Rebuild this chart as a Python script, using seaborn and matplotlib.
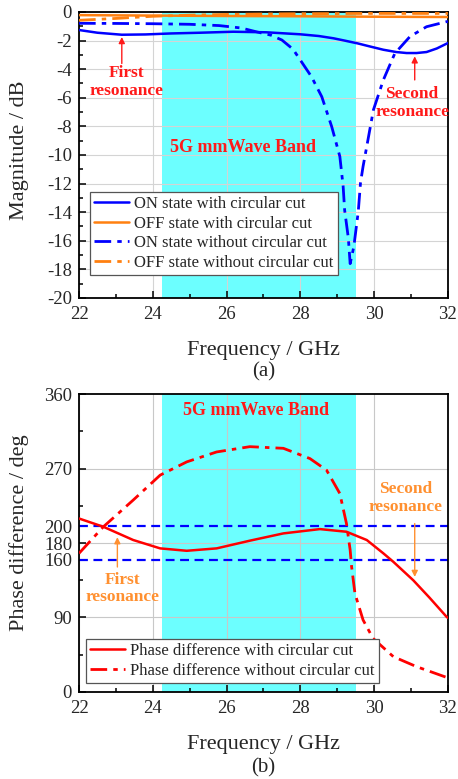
import matplotlib
matplotlib.use('Agg')
import matplotlib.pyplot as plt
from matplotlib.ticker import MultipleLocator, FixedLocator
import numpy as np
import pandas as pd
import seaborn as sns

# ---- data ----
# (a) magnitude, dB
f_on_cut = [22.0, 22.5, 23.16, 23.8, 24.5, 25.28, 26.18, 27.08, 28.0, 28.5, 28.9, 29.2, 29.56,
            29.9, 30.25, 30.6, 30.88, 31.15, 31.42, 31.7, 32.0]
m_on_cut = [-1.26, -1.45, -1.59, -1.57, -1.5, -1.45, -1.38, -1.42, -1.56, -1.68, -1.84, -2.0, -2.2,
            -2.42, -2.64, -2.8, -2.87, -2.87, -2.8, -2.55, -2.17]

f_off_cut = [22.0, 24.0, 26.0, 28.0, 30.0, 32.0]
m_off_cut = [-0.22, -0.25, -0.28, -0.3, -0.33, -0.35]

f_on_nocut = [22.0, 23.0, 24.0, 25.0, 25.8, 26.4, 26.8, 27.2, 27.5, 27.8, 28.03, 28.3, 28.58,
              28.85, 29.07, 29.16, 29.2, 29.3, 29.35, 29.45, 29.57, 29.63, 29.7, 29.8, 29.98,
              30.25, 30.56, 30.97, 31.42, 31.96, 32.0]
m_on_nocut = [-0.79, -0.8, -0.82, -0.86, -0.95, -1.12, -1.38, -1.62, -1.96, -2.6, -3.48, -4.52, -5.92,
              -8.02, -10.1, -12.2, -13.85, -15.8, -17.6, -16.4, -13.95, -11.95, -10.8, -9.4, -6.85,
              -4.75, -2.9, -1.72, -1.03, -0.68, -0.66]

f_off_nocut = [22.0, 23.0, 24.0, 25.0, 26.0, 27.0, 28.0, 30.0, 32.0]
m_off_nocut = [-0.58, -0.45, -0.3, -0.22, -0.17, -0.14, -0.12, -0.1, -0.1]

# (b) phase difference, deg
f_ph_cut = [22.0, 22.66, 23.47, 24.2, 24.92, 25.73, 26.63, 27.54, 28.53, 29.25, 29.8, 30.25,
            30.52, 31.06, 31.5, 31.96, 32.0]
p_ph_cut = [209.6, 199.6, 183.6, 173.5, 170.6, 173.5, 182.8, 191.6, 196.8, 193.6, 183.6, 167.5,
            157.3, 135.0, 114.0, 91.0, 89.5]

f_ph_nocut = [22.0, 22.66, 23.47, 24.2, 24.92, 25.73, 26.63, 27.54, 28.26, 28.71, 29.07, 29.25,
              29.35, 29.39, 29.48, 29.7, 29.97, 30.52, 31.15, 31.96, 32.0]
p_ph_nocut = [167.5, 199.6, 231.9, 262.0, 278.0, 290.0, 296.4, 294.4, 282.0, 268.0, 239.8, 203.5,
              171.5, 151.0, 119.0, 87.0, 64.8, 42.7, 30.6, 17.7, 17.5]

band = (24.25, 29.5)
phase_limits = [160, 200]

labels_a = ["ON state with circular cut", "OFF state with circular cut",
            "ON state without circular cut", "OFF state without circular cut"]
labels_b = ["Phase difference with circular cut", "Phase difference without circular cut"]

sns.set_style("ticks")
plt.rcParams['font.family'] = ['Liberation Serif', 'DejaVu Serif']
plt.rcParams['mathtext.fontset'] = 'stix'

BLUE = "#0000ff"
ORANGE = "#ff8010"
RED = "#ff0000"
TXT_RED = "#ff1a1a"
TXT_OR = "#ff9030"
CYAN = "#6cffff"
DASHDOT = (0, (6, 2.2, 1.6, 2.2))

fig = plt.figure(figsize=(4.58, 7.79), dpi=100)
ax1 = fig.add_axes([0.1725, 0.6175, 0.8055, 0.3671])
ax2 = fig.add_axes([0.1725, 0.1117, 0.8055, 0.3825])


def style_axes(ax):
    for s in ax.spines.values():
        s.set_color("black")
        s.set_linewidth(1.3)
    ax.tick_params(which='both', direction='in', top=False, right=False,
                   labelsize=13.5, width=1.1, color='black')
    ax.tick_params(which='major', length=5)
    ax.tick_params(which='minor', length=3)
    ax.tick_params(axis='x', which='major', pad=6)
    ax.tick_params(axis='y', which='major', pad=5)
    ax.set_axisbelow(True)


def add_legend(ax, anchor):
    leg = ax.legend(loc='lower left', bbox_to_anchor=anchor, fontsize=12, frameon=True,
                    fancybox=False, edgecolor='#555555', framealpha=1, handlelength=2.1,
                    labelspacing=0.22, borderpad=0.25, handletextpad=0.3, borderaxespad=0)
    leg.get_frame().set_linewidth(0.9)
    leg.set_zorder(5)


# ---------- (a) ----------
ax = ax1
ax.axvspan(band[0], band[1], color=CYAN, lw=0, zorder=0)
ax.grid(True, which='major', color='#d4d4d4', lw=0.8, zorder=0.5)
df = pd.DataFrame({'f': f_on_cut, 'm': m_on_cut})
sns.lineplot(data=df, x='f', y='m', ax=ax, color=BLUE, lw=1.8, label=labels_a[0], zorder=3)
df = pd.DataFrame({'f': f_off_cut, 'm': m_off_cut})
sns.lineplot(data=df, x='f', y='m', ax=ax, color=ORANGE, lw=1.8, label=labels_a[1], zorder=3)
df = pd.DataFrame({'f': f_on_nocut, 'm': m_on_nocut})
sns.lineplot(data=df, x='f', y='m', ax=ax, color=BLUE, lw=2.0, ls=DASHDOT, label=labels_a[2], zorder=3)
df = pd.DataFrame({'f': f_off_nocut, 'm': m_off_nocut})
sns.lineplot(data=df, x='f', y='m', ax=ax, color=ORANGE, lw=2.0, ls=DASHDOT, label=labels_a[3], zorder=3)

ax.set_xlim(22, 32)
ax.set_ylim(-20, 0)
ax.xaxis.set_major_locator(MultipleLocator(2))
ax.xaxis.set_minor_locator(MultipleLocator(1))
ax.yaxis.set_major_locator(MultipleLocator(2))
ax.yaxis.set_minor_locator(MultipleLocator(1))
style_axes(ax)
ax.set_yticklabels([f"{int(v)}" for v in ax.get_yticks()])
ax.set_xlabel("Frequency / GHz", fontsize=16, labelpad=13)
ax.set_ylabel("Magnitude / dB", fontsize=16)
ax.yaxis.set_label_coords(-0.135, 0.517)
add_legend(ax, (0.03, 0.08))

ax.text(26.45, -9.5, "5G mmWave Band", color=TXT_RED, fontsize=13, fontweight='bold',
        ha='center', va='center')
ax.text(23.28, -4.9, "First\nresonance", color=TXT_RED, fontsize=12.5, fontweight='bold',
        ha='center', va='center', linespacing=1.15)
ax.text(31.03, -6.35, "Second\nresonance", color=TXT_RED, fontsize=12.5, fontweight='bold',
        ha='center', va='center', linespacing=1.15)
arrow = dict(arrowstyle='-|>', color=TXT_RED, lw=1.0, mutation_scale=9, shrinkA=0, shrinkB=0)
ax.annotate("", xy=(23.16, -1.75), xytext=(23.16, -3.6), arrowprops=arrow)
ax.annotate("", xy=(31.1, -3.1), xytext=(31.1, -4.75), arrowprops=arrow)

# ---------- (b) ----------
ax = ax2
ax.axvspan(band[0], band[1], color=CYAN, lw=0, zorder=0)
ax.grid(True, which='major', axis='x', color='#c8c8c8', lw=0.8, zorder=0.5)
for yv in [90, 180, 270]:
    ax.axhline(yv, color='#c8c8c8', lw=0.8, zorder=0.5)
for yv in phase_limits:
    ax.axhline(yv, color=BLUE, lw=1.6, ls=(0, (4, 2.5)), zorder=2)
df = pd.DataFrame({'f': f_ph_cut, 'p': p_ph_cut})
sns.lineplot(data=df, x='f', y='p', ax=ax, color=RED, lw=1.8, label=labels_b[0], zorder=3)
df = pd.DataFrame({'f': f_ph_nocut, 'p': p_ph_nocut})
sns.lineplot(data=df, x='f', y='p', ax=ax, color=RED, lw=2.0, ls=DASHDOT, label=labels_b[1], zorder=3)

ax.set_xlim(22, 32)
ax.set_ylim(0, 360)
ax.xaxis.set_major_locator(MultipleLocator(2))
ax.xaxis.set_minor_locator(MultipleLocator(1))
ax.yaxis.set_major_locator(FixedLocator([0, 90, 160, 180, 200, 270, 360]))
ax.yaxis.set_minor_locator(FixedLocator([45, 135, 225, 315]))
style_axes(ax)
ax.set_xlabel("Frequency / GHz", fontsize=16, labelpad=13)
ax.set_ylabel("Phase difference / deg", fontsize=16)
ax.yaxis.set_label_coords(-0.135, 0.534)
add_legend(ax, (0.019, 0.03))

ax.text(26.8, 340.6, "5G mmWave Band", color=TXT_RED, fontsize=13, fontweight='bold',
        ha='center', va='center')
ax.text(23.17, 125, "First\nresonance", color=TXT_OR, fontsize=12.5, fontweight='bold',
        ha='center', va='center', linespacing=1.15)
ax.text(30.85, 234, "Second\nresonance", color=TXT_OR, fontsize=12.5, fontweight='bold',
        ha='center', va='center', linespacing=1.15)
arrow = dict(arrowstyle='-|>', color=TXT_OR, lw=1.0, mutation_scale=9, shrinkA=0, shrinkB=0)
ax.annotate("", xy=(23.04, 187), xytext=(23.04, 151), arrowprops=arrow)
ax.annotate("", xy=(31.1, 139), xytext=(31.1, 203.5), arrowprops=arrow)

fig.text(0.5755, 1 - 372 / 779, "(a)", fontsize=15, ha='center', va='center')
fig.text(0.5755, 1 - 768 / 779, "(b)", fontsize=15, ha='center', va='center')

fig.savefig("out.png", dpi=100)
